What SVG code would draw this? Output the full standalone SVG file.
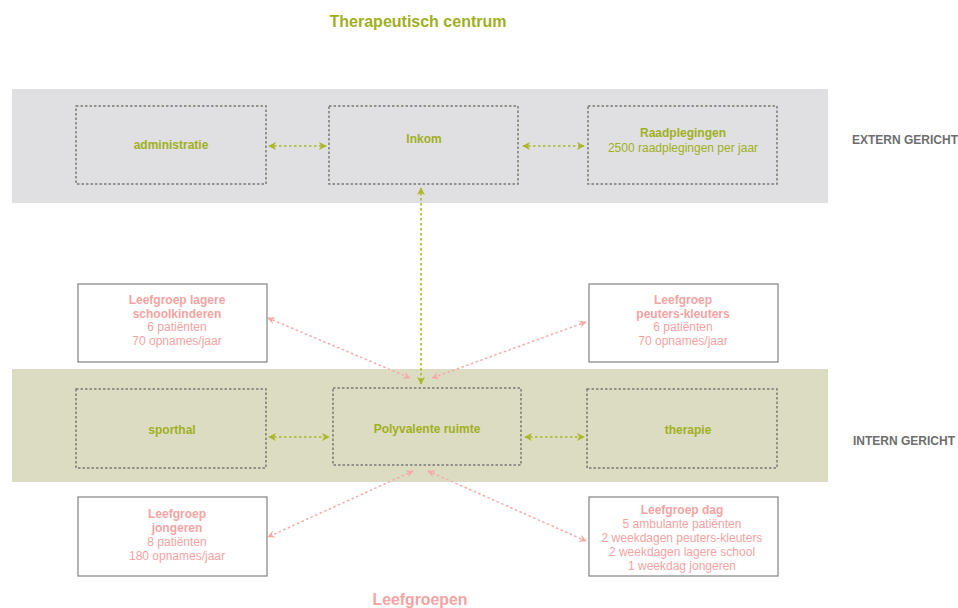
<svg xmlns="http://www.w3.org/2000/svg" width="958" height="608" viewBox="0 0 958 608">
<defs>
<style>
text{font-family:"Liberation Sans",Arial,sans-serif;text-anchor:middle}
.g{fill:#9fb01e}
.p{fill:#f4a3a3}
.b{font-weight:bold}
.t{font-size:12px}
.zone{stroke:#7a7a72;stroke-width:1.5;stroke-dasharray:2.5 2;fill:none}
.lg{stroke:#8c8c8c;stroke-width:1.3;fill:#fff}
.cg{stroke:#a8b828;stroke-width:1.6;stroke-dasharray:2.5 2.5;fill:none}
.cp{stroke:#f4aaaa;stroke-width:1.5;stroke-dasharray:2.5 2.5;fill:none}
.side{fill:#6e6e6e;font-weight:bold;font-size:12px;text-anchor:start}
</style>
<marker id="ag" viewBox="0 0 10 10" refX="9" refY="5" markerWidth="5" markerHeight="5" orient="auto-start-reverse"><path d="M0,0 L10,5 L0,10 L3,5 z" fill="#a8b828"/></marker>
<marker id="ap" viewBox="0 0 10 10" refX="9" refY="5" markerWidth="5" markerHeight="5" orient="auto-start-reverse"><path d="M0,0 L10,5 L0,10 L3,5 z" fill="#f4aaaa"/></marker>
</defs>
<rect width="958" height="608" fill="#fff"/>
<rect x="12" y="89" width="816" height="114" fill="#e0e0e2"/>
<rect x="12" y="369" width="816" height="113" fill="#dcdcc3"/>
<text x="418" y="27" class="g b" font-size="16">Therapeutisch centrum</text>
<text x="420" y="605" class="p b" font-size="15.8">Leefgroepen</text>
<text x="852" y="144" class="side">EXTERN GERICHT</text>
<text x="853" y="445" class="side">INTERN GERICHT</text>
<g id="connectors">
<line class="cg" x1="269" y1="146" x2="326" y2="146" marker-start="url(#ag)" marker-end="url(#ag)"/>
<line class="cg" x1="523" y1="146" x2="584" y2="146" marker-start="url(#ag)" marker-end="url(#ag)"/>
<line class="cg" x1="269" y1="437" x2="329" y2="437" marker-start="url(#ag)" marker-end="url(#ag)"/>
<line class="cg" x1="525" y1="437" x2="584" y2="437" marker-start="url(#ag)" marker-end="url(#ag)"/>
<line class="cg" x1="421" y1="188" x2="421" y2="384" marker-start="url(#ag)" marker-end="url(#ag)"/>
<line class="cp" x1="268" y1="318" x2="410" y2="378" marker-start="url(#ap)" marker-end="url(#ap)"/>
<line class="cp" x1="586" y1="322" x2="432" y2="378" marker-start="url(#ap)" marker-end="url(#ap)"/>
<line class="cp" x1="413" y1="471" x2="268" y2="537" marker-start="url(#ap)" marker-end="url(#ap)"/>
<line class="cp" x1="428" y1="471" x2="586" y2="541" marker-start="url(#ap)" marker-end="url(#ap)"/>
</g>
<g id="administratie"><rect class="zone" x="76" y="106" width="190" height="78"/><text x="171" y="149" class="g b t">administratie</text></g>
<g id="inkom"><rect class="zone" x="329" y="106" width="189" height="78"/><text x="424" y="143" class="g b t">Inkom</text></g>
<g id="raadplegingen"><rect class="zone" x="588" y="106" width="189" height="78"/><text x="683" y="137" class="g b t">Raadplegingen</text><text x="683" y="152" class="g t">2500 raadplegingen per jaar</text></g>
<g id="sporthal"><rect class="zone" x="76" y="389" width="190" height="79"/><text x="172" y="434" class="g b t">sporthal</text></g>
<g id="polyvalente"><rect class="zone" x="333" y="388" width="188" height="77"/><text x="427" y="433" class="g b t">Polyvalente ruimte</text></g>
<g id="therapie"><rect class="zone" x="587" y="389" width="190" height="79"/><text x="688" y="434" class="g b t">therapie</text></g>
<g id="lagere"><rect class="lg" x="78" y="284" width="189" height="78"/><text x="177" y="304" class="p b t">Leefgroep lagere</text><text x="177" y="318" class="p b t">schoolkinderen</text><text x="177" y="331" class="p t">6 patiënten</text><text x="177" y="345" class="p t">70 opnames/jaar</text></g>
<g id="peuters"><rect class="lg" x="589" y="284" width="189" height="78"/><text x="683" y="304" class="p b t">Leefgroep</text><text x="683" y="318" class="p b t">peuters-kleuters</text><text x="683" y="331" class="p t">6 patiënten</text><text x="683" y="345" class="p t">70 opnames/jaar</text></g>
<g id="jongeren"><rect class="lg" x="78" y="497" width="189" height="79"/><text x="177" y="518" class="p b t">Leefgroep</text><text x="177" y="532" class="p b t">jongeren</text><text x="177" y="546" class="p t">8 patiënten</text><text x="177" y="560" class="p t">180 opnames/jaar</text></g>
<g id="dag"><rect class="lg" x="589" y="497" width="189" height="79"/><text x="682" y="514" class="p b t">Leefgroep dag</text><text x="682" y="528" class="p t">5 ambulante patiënten</text><text x="682" y="542" class="p t">2 weekdagen peuters-kleuters</text><text x="682" y="556" class="p t">2 weekdagen lagere school</text><text x="682" y="570" class="p t">1 weekdag jongeren</text></g>
</svg>
